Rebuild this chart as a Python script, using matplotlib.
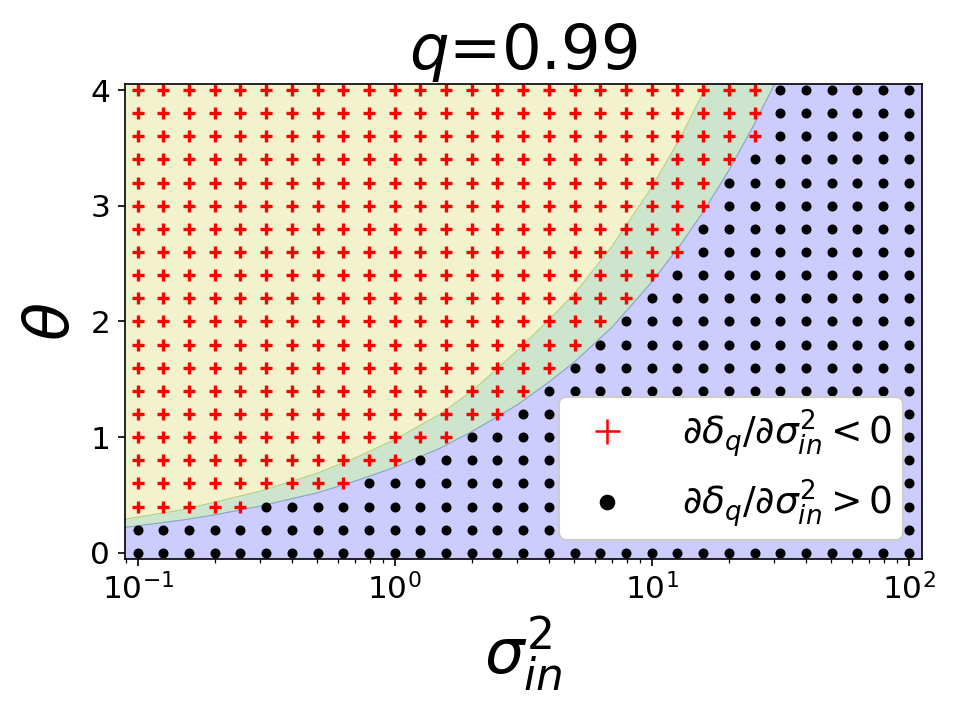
import numpy as np
import matplotlib
matplotlib.use('Agg')
import matplotlib.pyplot as plt
from matplotlib.lines import Line2D

# grid of sigma_in^2 (log spaced, 10 per decade) and theta values
sigma_grid = np.logspace(-1, 2, 31)
theta_grid = [0.0, 0.2, 0.4, 0.6, 0.8, 1.0, 1.2, 1.4, 1.6, 1.8, 2.0,
              2.2, 2.4, 2.6, 2.8, 3.0, 3.2, 3.4, 3.6, 3.8, 4.0]
# number of columns (from the left) where the derivative is negative, per theta row
n_negative = [0, 0, 5, 9, 11, 13, 15, 16, 17, 18, 19,
              20, 21, 22, 22, 23, 23, 24, 25, 25, 25]

# boundary curves
curve_x = [0.085, 0.1, 0.15, 0.2, 0.3, 0.5, 0.7, 1.0, 1.5, 2.0, 3.0, 4.0, 5.0,
           7.0, 10.0, 13.0, 16.0, 20.0, 25.0, 30.0, 40.0, 120.0]
lower_y = [0.215, 0.235, 0.285, 0.33, 0.405, 0.52, 0.62, 0.74, 0.905, 1.05, 1.28, 1.48, 1.65,
           1.95, 2.34, 2.67, 2.96, 3.31, 3.70, 4.05, 4.68, 8.1]
upper_y = [0.285, 0.31, 0.375, 0.44, 0.535, 0.69, 0.82, 0.98, 1.20, 1.40, 1.75, 2.02, 2.24,
           2.65, 3.16, 3.60, 4.00, 4.47, 5.0, 5.5, 6.3, 11.0]

ymin, ymax = -0.05, 4.05

fig, ax = plt.subplots(figsize=(6.4, 4.8), dpi=150)
plt.subplots_adjust(left=0.130, right=0.960, top=0.883, bottom=0.224)

ax.fill_between(curve_x, ymin, lower_y, color='b', alpha=0.2, lw=0.5)
ax.fill_between(curve_x, lower_y, upper_y, color='g', alpha=0.2, lw=0.5)
ax.fill_between(curve_x, upper_y, 10 * ymax, color='y', alpha=0.2, lw=0.5)

neg_x, neg_y, pos_x, pos_y = [], [], [], []
for th, n in zip(theta_grid, n_negative):
    for j, s in enumerate(sigma_grid):
        if j < n:
            neg_x.append(s)
            neg_y.append(th)
        else:
            pos_x.append(s)
            pos_y.append(th)

ax.plot(neg_x, neg_y, 'r+', ms=6, mew=1.6, linestyle='none')
ax.plot(pos_x, pos_y, 'ko', ms=3.8, linestyle='none')

ax.set_xscale('log')
ax.set_xlim(10 ** -1.05, 10 ** 2.05)
ax.set_ylim(ymin, ymax)
ax.set_yticks([0, 1, 2, 3, 4])
ax.tick_params(labelsize=15)

ax.set_title('$q$=0.99', fontsize=30)
ax.set_xlabel(r'$\sigma_{in}^2$', fontsize=30)
ax.set_ylabel(r'$\theta$', fontsize=30)

handles = [Line2D([], [], color='r', marker='+', ms=12, mew=1.2, linestyle='none'),
           Line2D([], [], color='k', marker='o', ms=6.5, linestyle='none')]
labels = [r'$\partial\delta_q/\partial\sigma_{in}^2<0$',
          r'$\partial\delta_q/\partial\sigma_{in}^2>0$']
ax.legend(handles, labels, loc='lower right', fontsize=18, framealpha=1,
          handletextpad=1.0, borderpad=0.28)

plt.savefig('out.png')
